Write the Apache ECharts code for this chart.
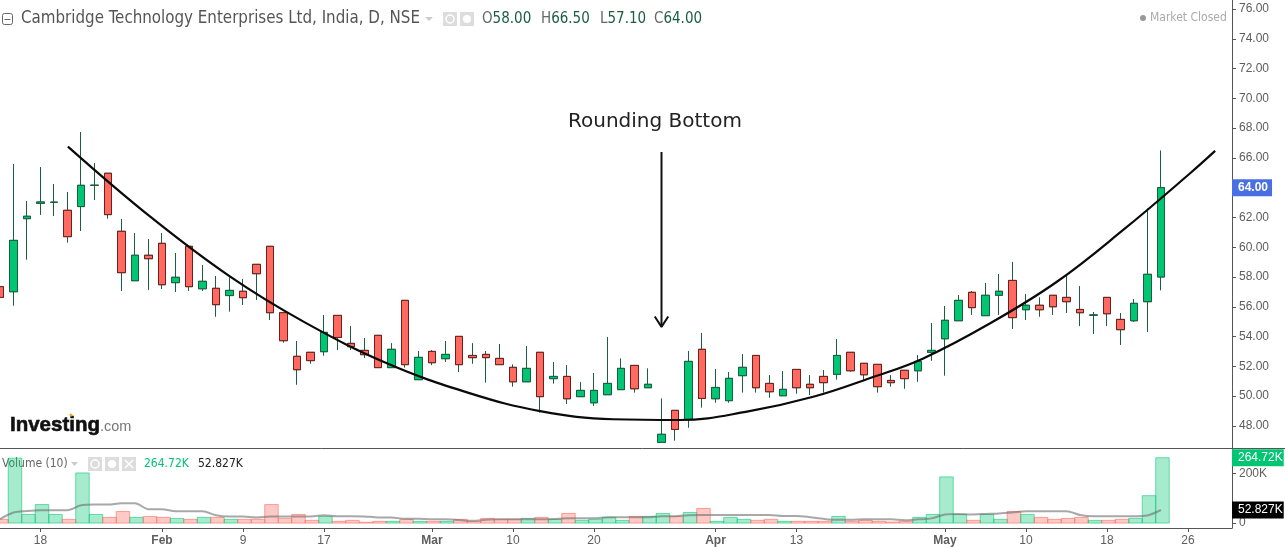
<!DOCTYPE html>
<html><head><meta charset="utf-8">
<style>html,body{margin:0;padding:0;background:#fff}#c{width:1285px;height:547px}</style>
<script src="https://cdn.jsdelivr.net/npm/echarts@6/dist/echarts.min.js"></script>
</head><body><div id="c"></div>
<script>
const tickIndex=[3,12,18,24,32,38,44,53,59,70,76,82,88];
const tickLabels=['18','Feb','9','17','Mar','10','20','Apr','13','May','10','18','26'];
const priceTicks=[48,50,52,54,56,58,60,62,64,66,68,70,72,74,76];
const volumeTicks=[0,200000];
const opens=[57.35,57.01,61.92,62.95,63.02,62.48,62.73,64.16,64.97,61.07,57.75,59.46,60.26,57.62,60.06,57.21,57.24,56.75,57.04,58.85,60.06,55.6,52.67,52.94,52.98,55.42,53.54,53.07,54.08,51.91,56.43,51.1,53.0,52.51,54.01,52.73,52.8,52.53,51.93,50.96,52.94,51.17,51.32,49.96,49.55,50.09,50.43,52.06,50.56,46.89,49.04,48.43,53.14,49.82,49.69,51.37,52.73,50.85,50.02,51.79,50.79,51.32,51.46,52.94,52.2,52.13,51.05,51.73,51.7,52.94,53.85,55.06,56.97,55.4,56.77,57.77,55.8,56.1,56.77,56.63,55.82,55.44,56.63,55.15,55.06,56.34,58];
const closes=[56.63,60.46,62.08,63.04,63.02,60.71,64.16,64.16,62.19,58.29,59.46,59.23,57.48,57.98,57.35,57.71,56.14,57.1,56.61,58.22,55.6,53.72,51.77,52.38,54.28,53.94,53.32,52.78,51.91,53.14,52.11,52.6,52.24,52.8,52.11,52.58,52.58,52.11,50.96,51.86,49.96,51.32,49.82,50.38,50.38,50.85,51.86,50.49,50.79,47.43,47.76,52.33,49.84,50.58,51.19,51.93,50.56,50.29,50.45,50.56,50.56,50.9,52.73,51.7,51.43,50.63,50.9,51.17,52.33,53.07,55.09,56.43,55.94,56.77,57.04,55.27,56.1,55.8,56.0,56.34,55.6,55.44,55.53,54.46,56.23,58.18,64];
const lows=[55.8,56.07,59.16,62.17,62.1,60.31,61.09,63.17,61.92,57.06,57.75,57.13,57.19,56.99,57.06,57.06,55.33,55.67,56.12,56.45,55.11,53.59,50.76,52.17,52.71,53.09,53.09,52.56,51.91,51.91,51.91,51.1,52.08,52.29,51.61,52.17,50.9,52.11,50.63,50.96,48.88,50.83,49.46,49.96,49.33,50.09,50.43,50.23,50.56,46.89,47.0,47.87,49.22,49.55,49.55,50.23,50.23,49.89,50.02,50.16,50.07,50.23,51.1,51.63,51.08,50.23,50.63,50.49,50.96,52.37,51.37,55.06,55.45,55.4,55.45,54.51,55.11,55.33,55.45,55.58,54.7,54.17,54.7,53.43,54.98,54.3,57.1];
const highs=[57.35,65.59,63.11,65.39,64.25,63.71,67.74,65.66,64.97,61.9,60.96,60.55,60.96,59.61,60.06,58.81,58.07,57.98,57.87,58.85,60.06,55.6,53.7,52.94,55.45,55.42,54.71,53.9,54.08,53.56,56.43,53.03,53.09,53.7,54.01,53.56,53.03,53.5,52.13,53.36,52.94,52.29,52.08,50.94,51.55,53.97,52.53,52.06,51.86,49.84,49.04,53.03,54.24,51.82,51.61,52.82,52.73,51.41,51.68,51.79,51.41,51.75,53.83,52.94,52.2,52.13,51.41,51.73,52.76,54.91,56.05,56.79,57.06,57.6,58.2,59.01,56.86,56.63,56.77,58.06,57.39,55.65,56.63,55.58,56.52,62.61,66.5];
const volumes=[15000,263000,35000,75000,35000,15000,203000,35000,23000,47000,23000,27000,23000,19000,15000,23000,23000,15000,15000,15000,75000,19000,35000,11000,27000,7000,11000,3000,7000,7000,15000,7000,7000,7000,15000,7000,19000,15000,15000,19000,23000,15000,39000,11000,15000,23000,11000,27000,27000,39000,27000,43000,59000,7000,23000,15000,11000,15000,7000,7000,7000,7000,27000,7000,11000,7000,4000,7000,23000,35000,187000,35000,11000,35000,15000,47000,35000,23000,15000,19000,23000,11000,11000,15000,19000,111000,264720];
const volumeMA=[16000,43000,49000,52000,52000,52000,72000,75000,75000,80000,80000,56000,56000,48000,48000,48000,32000,27000,27000,23000,27000,27000,27000,27000,32000,28000,28000,27000,23000,23000,17000,17000,15000,15000,12000,9000,13000,15000,15000,15000,15000,16000,19000,19000,19000,24000,24000,24000,24000,28000,28000,32000,33000,33000,33000,33000,33000,33000,29000,29000,24000,17000,13000,13000,15000,15000,15000,11000,15000,19000,35000,37000,35000,37000,39000,43000,48000,48000,48000,48000,33000,28000,28000,28000,28000,31000,52827];
const trendIndex=[5.03,11.13,17.05,22.48,28.66,34.83,40.01,45.42,50.39,55.33,60.24,64.68,68.39,73.35,78.29,83.2,88.16,90.01];
const trendPrice=[66.76,62.05,58.02,55.0,52.2,50.18,48.99,48.44,48.39,48.95,49.95,51.28,52.53,54.89,57.68,61.16,64.97,66.47];
const arrowIndex=[49,49];
const arrowPrice=[66.4,54.65];
const arrowHeadIndex=[48.5,49,49.5];
const arrowHeadPrice=[55.35,54.65,55.35];

const UP='#00c573',DOWN='#ff6a60',UPB='#1b5f40',DOWNB='#6f1d1d';
const SANS='"Liberation Sans",Arial,sans-serif', HEAD='"DejaVu Sans Condensed","DejaVu Sans",sans-serif';
const PRICE_MIN=46.51,PRICE_MAX=76.61,X_MAX=91.26;

const wicks=opens.map((o,i)=>[i,o,closes[i],lows[i],highs[i]]);
const bodies=opens.map((o,i)=>[i,o,closes[i],Math.min(o,closes[i]),Math.max(o,closes[i])]);
const bars=volumes.map((v,i)=>({value:[i,v],itemStyle:closes[i]>=opens[i]
  ?{color:'rgba(0,197,115,.35)',borderColor:'rgba(0,197,115,.55)'}
  :{color:'rgba(255,106,96,.36)',borderColor:'rgba(255,106,96,.6)'}}));
function flag(v,text,bg,weight,right){return {yAxis:v,lineStyle:{width:0,color:'transparent'},label:{show:true,opacity:1,formatter:text,backgroundColor:bg,color:'#fff',fontFamily:SANS,fontSize:12,fontWeight:weight||'normal',padding:[3,right,2,6],position:'end',distance:0}};}

const chart=echarts.init(document.getElementById('c'),null,{renderer:'canvas'});
chart.setOption({
  animation:false,backgroundColor:'#fff',
  grid:[{left:0,top:0,width:1232,height:448},{left:0,top:449,width:1232,height:80}],
  xAxis:[
    {gridIndex:0,type:'value',min:0,max:X_MAX,show:false},
    {gridIndex:1,type:'value',min:0,max:X_MAX,splitLine:{show:false},
      axisLine:{show:true,onZero:false,lineStyle:{color:'#555',width:1}},
      axisTick:{show:true,length:4,customValues:tickIndex,lineStyle:{color:'#555'}},
      axisLabel:{customValues:tickIndex,color:'#5d5d5d',fontFamily:SANS,fontSize:12,margin:7,hideOverlap:false,
        formatter:v=>{const t=tickLabels[tickIndex.indexOf(v)];return /[a-z]/i.test(t)?'{b|'+t+'}':t;},
        rich:{b:{fontWeight:'bold',color:'#5d5d5d',fontFamily:SANS,fontSize:12}}}},
    {gridIndex:1,type:'value',min:-0.11,max:X_MAX-0.11,show:false}
  ],
  yAxis:[
    {gridIndex:0,type:'value',position:'right',min:PRICE_MIN,max:PRICE_MAX,splitLine:{show:false},
      axisLine:{show:true,onZero:false,lineStyle:{color:'#555'}},
      axisTick:{show:true,length:4,customValues:priceTicks,lineStyle:{color:'#555'}},
      axisLabel:{customValues:priceTicks,color:'#5d5d5d',fontFamily:SANS,fontSize:12,margin:7,padding:[2,0,0,0],formatter:v=>v.toFixed(2)}},
    {gridIndex:1,type:'value',position:'right',min:-20000,max:300000,splitLine:{show:false},
      axisLine:{show:true,onZero:false,lineStyle:{color:'#555'}},
      axisTick:{show:true,length:4,customValues:volumeTicks,lineStyle:{color:'#555'}},
      axisLabel:{customValues:volumeTicks,color:'#5d5d5d',fontFamily:SANS,fontSize:12,margin:7,padding:[4,0,0,0],formatter:v=>v?(v/1000)+'K':'0'}}
  ],
  series:[
    {type:'candlestick',name:'Wicks',xAxisIndex:0,yAxisIndex:0,barWidth:8,data:wicks,
      itemStyle:{color:UPB,color0:UPB,borderColor:UPB,borderColor0:UPB,borderColorDoji:UPB,borderWidth:1}},
    {type:'candlestick',name:'Bodies',xAxisIndex:0,yAxisIndex:0,barWidth:8,data:bodies,
      itemStyle:{color:UP,color0:DOWN,borderColor:UPB,borderColor0:DOWNB,borderColorDoji:UPB,borderWidth:1},
      markLine:{silent:true,symbol:'none',animation:false,data:[flag(closes[closes.length-1],closes[closes.length-1].toFixed(2),'#4a6fe3','bold',4)]}},
    {type:'line',name:'Rounding curve',xAxisIndex:0,yAxisIndex:0,data:trendIndex.map((x,i)=>[x,trendPrice[i]]),smooth:0.4,showSymbol:false,lineStyle:{color:'#0a0a0a',width:2.2},z:5},
    {type:'line',name:'Arrow',xAxisIndex:0,yAxisIndex:0,data:arrowIndex.map((x,i)=>[x,arrowPrice[i]]),showSymbol:false,lineStyle:{color:'#111',width:2},z:5},
    {type:'line',name:'Arrow head',xAxisIndex:0,yAxisIndex:0,data:arrowHeadIndex.map((x,i)=>[x,arrowHeadPrice[i]]),showSymbol:false,lineStyle:{color:'#111',width:2},z:5},
    {type:'bar',name:'Volume',xAxisIndex:2,yAxisIndex:1,barWidth:13.5,data:bars,
      markLine:{silent:true,symbol:'none',animation:false,data:[flag(volumes[volumes.length-1],'264.72K','#00c573','normal',1)]}},
    {type:'line',name:'Volume MA',xAxisIndex:1,yAxisIndex:1,data:volumeMA.map((v,i)=>[i,v]),smooth:0.3,showSymbol:false,lineStyle:{color:'rgba(110,110,110,.6)',width:2},z:4,
      markLine:{silent:true,symbol:'none',animation:false,data:[flag(volumeMA[volumeMA.length-1],'52.827K','#000','normal',1)]}}
  ],
  graphic:[
    {type:'line',shape:{x1:0,y1:448.5,x2:1285,y2:448.5},style:{stroke:'#555',lineWidth:1}},
    {type:'rect',shape:{x:2.5,y:13.5,width:10,height:11,r:2},style:{fill:'none',stroke:'#666',lineWidth:1}},
    {type:'line',shape:{x1:4.5,y1:19.5,x2:10.5,y2:19.5},style:{stroke:'#666',lineWidth:1}},
    {type:'text',x:21,y:19,style:{text:'Cambridge Technology Enterprises Ltd, India, D, NSE',fill:'#555',font:'16.8px '+HEAD,textVerticalAlign:'middle'}},
    {type:'polygon',shape:{points:[[425,17],[433,17],[429,21]]},style:{fill:'#ccc'}},
    {type:'rect',shape:{x:443,y:12,width:14,height:14},style:{fill:'#ddd'}},
    {type:'circle',shape:{cx:450,cy:19,r:4},style:{fill:'none',stroke:'#fff',lineWidth:1.5}},
    {type:'rect',shape:{x:460,y:12,width:14,height:14},style:{fill:'#ddd'}},
    {type:'circle',shape:{cx:467,cy:19,r:4},style:{fill:'#fff'}},
    {type:'text',x:482,y:19,style:{text:'{g|O}{v|58.00}',textVerticalAlign:'middle',rich:{g:{fill:'#666',font:'15px '+HEAD},v:{fill:'#1b5f40',font:'15px '+HEAD}}}},
    {type:'text',x:541,y:19,style:{text:'{g|H}{v|66.50}',textVerticalAlign:'middle',rich:{g:{fill:'#666',font:'15px '+HEAD},v:{fill:'#1b5f40',font:'15px '+HEAD}}}},
    {type:'text',x:600,y:19,style:{text:'{g|L}{v|57.10}',textVerticalAlign:'middle',rich:{g:{fill:'#666',font:'15px '+HEAD},v:{fill:'#1b5f40',font:'15px '+HEAD}}}},
    {type:'text',x:654,y:19,style:{text:'{g|C}{v|64.00}',textVerticalAlign:'middle',rich:{g:{fill:'#666',font:'15px '+HEAD},v:{fill:'#1b5f40',font:'15px '+HEAD}}}},
    {type:'circle',shape:{cx:1143,cy:18,r:3},style:{fill:'#999'}},
    {type:'text',x:1150,y:18,style:{text:'Market Closed',fill:'#aaa',font:'12px '+HEAD,textVerticalAlign:'middle'}},
    {type:'text',x:568,y:122,style:{text:'Rounding Bottom',fill:'#222',font:'20px "DejaVu Sans",sans-serif',textVerticalAlign:'middle'}},
    {type:'text',x:10,y:425,style:{text:'Investing',fill:'#111',stroke:'#111',lineWidth:0.6,font:'bold 20.5px '+SANS,textVerticalAlign:'middle'}},
    {type:'text',x:100,y:427,style:{text:'.com',fill:'#777',font:'14.5px '+SANS,textVerticalAlign:'middle'}},
    {type:'circle',shape:{cx:71,cy:415,r:1.5},style:{fill:'#f5a623'}},
    {type:'text',x:2,y:464,style:{text:'Volume (10)',fill:'#666',font:'12px '+HEAD,textVerticalAlign:'middle'}},
    {type:'polygon',shape:{points:[[71,462],[78,462],[74.5,466]]},style:{fill:'#ccc'}},
    {type:'rect',shape:{x:88,y:457,width:14,height:14},style:{fill:'#ddd'}},
    {type:'circle',shape:{cx:95,cy:464,r:4},style:{fill:'none',stroke:'#fff',lineWidth:1.5}},
    {type:'rect',shape:{x:105,y:457,width:14,height:14},style:{fill:'#ddd'}},
    {type:'circle',shape:{cx:112,cy:464,r:4},style:{fill:'#fff'}},
    {type:'rect',shape:{x:122,y:457,width:14,height:14},style:{fill:'#ddd'}},
    {type:'line',shape:{x1:125,y1:460,x2:133,y2:468},style:{stroke:'#fff',lineWidth:1.5}},
    {type:'line',shape:{x1:133,y1:460,x2:125,y2:468},style:{stroke:'#fff',lineWidth:1.5}},
    {type:'text',x:144,y:464,style:{text:'264.72K',fill:'#00c573',font:'12px '+HEAD,textVerticalAlign:'middle'}},
    {type:'text',x:198,y:464,style:{text:'52.827K',fill:'#222',font:'12px '+HEAD,textVerticalAlign:'middle'}}
  ]
});
</script></body></html>
